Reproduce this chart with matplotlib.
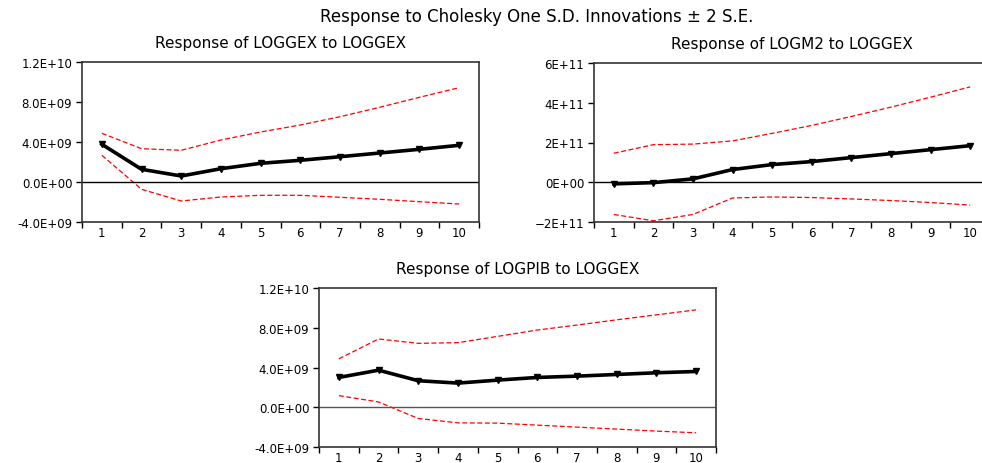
import numpy as np
import matplotlib.pyplot as plt

W, H = 982, 464

periods = list(range(1, 11))

# Response of LOGGEX to LOGGEX
gg_resp = [3.77e9, 1.27e9, 0.60e9, 1.33e9, 1.87e9, 2.17e9, 2.53e9, 2.90e9, 3.27e9, 3.67e9]
gg_upper = [4.87e9, 3.33e9, 3.17e9, 4.20e9, 5.00e9, 5.70e9, 6.53e9, 7.47e9, 8.47e9, 9.43e9]
gg_lower = [2.67e9, -0.73e9, -1.90e9, -1.50e9, -1.33e9, -1.33e9, -1.53e9, -1.73e9, -1.97e9, -2.20e9]

# Response of LOGM2 to LOGGEX
m2_resp = [-0.08e11, -0.02e11, 0.17e11, 0.64e11, 0.89e11, 1.04e11, 1.24e11, 1.44e11, 1.64e11, 1.84e11]
m2_upper = [1.46e11, 1.89e11, 1.92e11, 2.08e11, 2.46e11, 2.86e11, 3.31e11, 3.78e11, 4.28e11, 4.80e11]
m2_lower = [-1.62e11, -1.94e11, -1.62e11, -0.79e11, -0.74e11, -0.77e11, -0.84e11, -0.92e11, -1.02e11, -1.15e11]

# Response of LOGPIB to LOGGEX
pib_resp = [3.00e9, 3.73e9, 2.67e9, 2.43e9, 2.73e9, 3.00e9, 3.13e9, 3.30e9, 3.47e9, 3.60e9]
pib_upper = [4.87e9, 6.87e9, 6.43e9, 6.50e9, 7.13e9, 7.77e9, 8.27e9, 8.80e9, 9.30e9, 9.80e9]
pib_lower = [1.17e9, 0.53e9, -1.13e9, -1.57e9, -1.60e9, -1.80e9, -2.00e9, -2.20e9, -2.40e9, -2.57e9]

yt_small = [-4e9, 0, 4e9, 8e9, 1.2e10]
yl_small = ['-4.0E+09', '0.0E+00', '4.0E+09', '8.0E+09', '1.2E+10']
yt_m2 = [-2e11, 0, 2e11, 4e11, 6e11]
yl_m2 = ['\u22122E+11', '0E+00', '2E+11', '4E+11', '6E+11']

plt.rcParams['font.family'] = ['DejaVu Sans']

fig = plt.figure(figsize=(W / 100, H / 100), dpi=100)


def panel(left, top, right, bottom, title, resp, upper, lower, yt, yl, zero_col):
    ax = fig.add_axes([left / W, 1 - bottom / H, (right - left) / W, (bottom - top) / H])
    ax.plot(periods, upper, color='red', lw=0.9, ls=(0, (4, 2)))
    ax.plot(periods, lower, color='red', lw=0.9, ls=(0, (4, 2)))
    ax.axhline(0, color=zero_col, lw=1)
    ax.plot(periods, resp, color='black', lw=2.6, marker='v', ms=4)
    ax.set_xlim(0.5, 10.5)
    ax.set_ylim(yt[0], yt[-1])
    ax.set_yticks(yt)
    ax.set_yticklabels(yl, fontsize=8.5)
    ax.set_xticks(periods)
    ax.set_xticklabels([str(p) for p in periods], fontsize=8.5)
    ax.tick_params(axis='x', length=0, pad=3)
    ax.set_xticks([p + 0.5 for p in range(0, 11)], minor=True)
    ax.tick_params(axis='x', which='minor', length=4, width=1)
    ax.tick_params(axis='y', length=4, width=1, pad=3)
    for s in ax.spines.values():
        s.set_linewidth(1.2)
        s.set_color('#333333')
    ax.set_title(title, fontsize=11, pad=11)
    return ax


panel(82, 63, 479, 223, 'Response of LOGGEX to LOGGEX', gg_resp, gg_upper, gg_lower,
      yt_small, yl_small, 'black')
panel(594, 64, 990, 223, 'Response of LOGM2 to LOGGEX', m2_resp, m2_upper, m2_lower,
      yt_m2, yl_m2, 'black')
panel(319, 289, 716, 448, 'Response of LOGPIB to LOGGEX', pib_resp, pib_upper, pib_lower,
      yt_small, yl_small, '#555555')

fig.text(537 / W, 1 - 17 / H, 'Response to Cholesky One S.D. Innovations \u00b1 2 S.E.',
         ha='center', va='center', fontsize=12)

fig.savefig('out.png', dpi=100)
